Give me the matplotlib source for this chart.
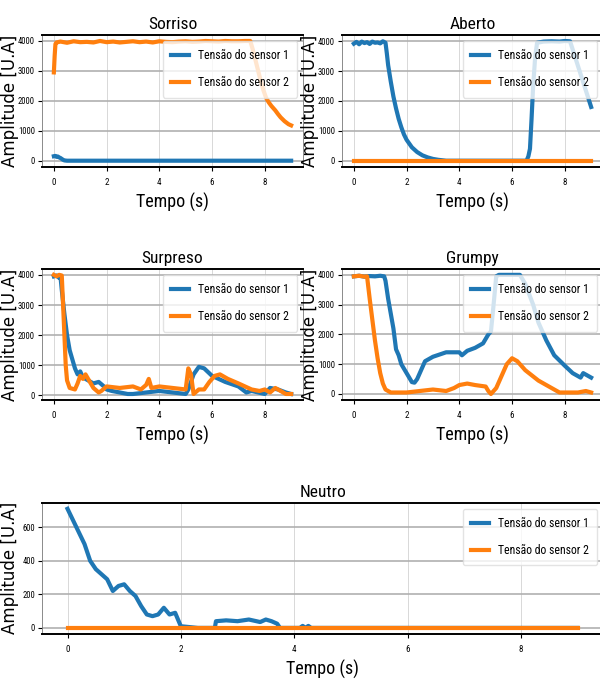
import matplotlib
matplotlib.use("Agg")
import matplotlib.pyplot as plt

# fonte estreita para imitar o texto comprimido da figura original
narrow = ["DejaVu Sans Condensed", "Roboto Condensed", "Liberation Sans Narrow", "DejaVu Sans"]
plt.rcParams["font.family"] = narrow
plt.rcParams["font.stretch"] = "condensed"

# ---- dados ----
# Sorriso
sorriso_t1 = [0, 0.05, 0.1, 0.15, 0.2, 0.25, 0.3, 0.35, 0.4, 0.5, 1, 2, 3, 4, 5, 6, 7, 8, 9]
sorriso_s1 = [150, 160, 130, 140, 110, 90, 60, 30, 10, 0, 0, 0, 0, 0, 0, 0, 0, 0, 0]
sorriso_t2 = [0, 0.03, 0.06, 0.1, 0.25, 0.5, 0.75, 1.0, 1.25, 1.5, 1.75, 2.0, 2.25, 2.5, 2.75,
              3.0, 3.25, 3.5, 3.75, 4.0, 4.25, 4.5, 4.75, 5.0, 5.25, 5.5, 5.75, 6.0, 6.25, 6.5,
              6.75, 7.0, 7.25, 7.45, 7.55, 7.65, 7.75, 7.85, 7.95, 8.05, 8.15, 8.25, 8.4, 8.5,
              8.6, 8.75, 8.9, 9.0]
sorriso_s2 = [2950, 3500, 3900, 3950, 3980, 3940, 3990, 3960, 3970, 3950, 4000, 3960, 3980,
              3950, 3970, 3990, 3960, 3980, 3950, 3990, 3970, 3960, 3980, 3990, 3970, 3980,
              4000, 3990, 3980, 4000, 3990, 3990, 4000, 4000, 3700, 3350, 3000, 2650, 2350,
              2100, 1950, 1830, 1680, 1560, 1450, 1320, 1220, 1180]

# Aberto
aberto_t1 = [0, 0.1, 0.2, 0.3, 0.4, 0.5, 0.6, 0.7, 0.8, 0.9, 1.0, 1.1, 1.2, 1.25, 1.3, 1.4,
             1.5, 1.6, 1.7, 1.8, 1.9, 2.0, 2.2, 2.4, 2.6, 2.8, 3.0, 3.2, 3.5, 4.0, 5.0, 6.0,
             6.55, 6.62, 6.68, 6.74, 6.8, 6.88, 6.95, 7.2, 7.5, 7.8, 8.0, 8.2, 8.4, 8.6, 8.8, 9.0]
aberto_s1 = [3920, 3980, 3900, 3990, 3940, 3970, 3910, 3990, 3950, 3960, 3930, 4000, 3950,
             3600, 3200, 2650, 2150, 1750, 1400, 1120, 880, 700, 450, 290, 180, 110, 60, 30,
             0, 0, 0, 0, 0, 150, 400, 1400, 2500, 3500, 3950, 3990, 4000, 3990, 4010, 4000,
             3450, 2900, 2350, 1800]
aberto_t2 = [0, 9]
aberto_s2 = [0, 0]

# Surpreso
surpreso_t1 = [0, 0.1, 0.2, 0.25, 0.3, 0.4, 0.5, 0.6, 0.7, 0.8, 0.9, 1.0, 1.1, 1.3, 1.5, 1.7,
               1.9, 2.0, 2.2, 2.5, 2.8, 3.0, 3.5, 4.0, 4.5, 5.0, 5.1, 5.3, 5.5, 5.7, 6.0, 6.5,
               7.0, 7.3, 7.5, 8.0, 8.2, 8.5, 8.8, 9.0]
surpreso_s1 = [3950, 3980, 3900, 3950, 3500, 2700, 2000, 1500, 1200, 900, 700, 800, 600, 500,
               400, 450, 300, 200, 150, 100, 50, 50, 100, 150, 100, 50, 200, 700, 950, 900,
               650, 450, 300, 100, 150, 50, 250, 200, 100, 50]
surpreso_t2 = [0, 0.1, 0.2, 0.3, 0.35, 0.4, 0.45, 0.5, 0.6, 0.8, 0.9, 1.0, 1.1, 1.2, 1.3, 1.5,
               1.7, 1.8, 2.0, 2.5, 3.0, 3.3, 3.5, 3.6, 3.7, 4.0, 4.5, 5.0, 5.1, 5.2, 5.3, 5.5,
               5.7, 5.9, 6.1, 6.3, 6.6, 7.0, 7.5, 7.8, 8.0, 8.2, 8.4, 8.6, 8.8, 9.0]
surpreso_s2 = [4000, 3950, 4000, 3980, 3000, 2000, 1000, 500, 250, 200, 400, 650, 550, 700,
               550, 250, 100, 150, 300, 250, 300, 200, 350, 550, 250, 300, 250, 200, 900, 700,
               50, 200, 200, 450, 650, 700, 550, 400, 200, 150, 200, 100, 250, 150, 50, 50]

# Grumpy
grumpy_t1 = [0, 0.2, 0.4, 0.6, 0.8, 1.0, 1.15, 1.2, 1.3, 1.4, 1.5, 1.6, 1.7, 1.8, 2.0, 2.2,
             2.3, 2.4, 2.6, 2.7, 3.0, 3.5, 4.0, 4.1, 4.3, 4.6, 4.9, 5.1, 5.2, 5.3, 5.4, 5.5,
             6.3, 6.5, 6.8, 7.0, 7.3, 7.6, 8.0, 8.3, 8.6, 8.7, 8.9, 9.0]
grumpy_s1 = [3950, 3970, 3940, 3960, 3950, 3970, 3950, 3800, 3200, 2700, 2200, 1500, 1300,
             1000, 700, 400, 380, 500, 900, 1100, 1250, 1400, 1400, 1300, 1450, 1550, 1700,
             2000, 2100, 3000, 3950, 4000, 4000, 3700, 3000, 2400, 1800, 1300, 950, 700, 550,
             700, 600, 550]
grumpy_t2 = [0, 0.2, 0.4, 0.5, 0.6, 0.7, 0.8, 0.9, 1.0, 1.1, 1.2, 1.4, 1.6, 2.0, 2.5, 3.0,
             3.5, 3.8, 4.0, 4.3, 4.6, 5.0, 5.1, 5.2, 5.4, 5.6, 5.8, 6.0, 6.2, 6.5, 7.0, 7.5,
             7.8, 8.5, 8.8, 9.0]
grumpy_s2 = [3950, 3970, 3940, 3950, 3200, 2500, 1800, 1200, 700, 350, 150, 50, 50, 50, 100,
             150, 100, 200, 300, 350, 300, 250, 100, 0, 200, 600, 1000, 1200, 1100, 800, 450,
             200, 50, 50, 100, 50]

# Neutro
neutro_t1 = [0, 0.1, 0.2, 0.3, 0.4, 0.5, 0.6, 0.7, 0.8, 0.9, 1.0, 1.1, 1.2, 1.3, 1.4, 1.5,
             1.6, 1.7, 1.8, 1.9, 2.0, 2.3, 2.6, 2.62, 2.8, 3.0, 3.2, 3.4, 3.5, 3.6, 3.7, 3.75,
             4.1, 4.15, 4.2, 4.25, 4.3, 9.0]
neutro_s1 = [710, 640, 570, 500, 400, 350, 320, 290, 220, 250, 260, 220, 190, 130, 80, 70, 80,
             120, 80, 90, 10, 0, 0, 40, 45, 40, 50, 35, 50, 40, 25, 0, 0, 12, 0, 12, 0, 0]
neutro_t2 = [0, 9]
neutro_s2 = [0, 0]

paineis = [
    ("Sorriso", sorriso_t1, sorriso_s1, sorriso_t2, sorriso_s2),
    ("Aberto", aberto_t1, aberto_s1, aberto_t2, aberto_s2),
    ("Surpreso", surpreso_t1, surpreso_s1, surpreso_t2, surpreso_s2),
    ("Grumpy", grumpy_t1, grumpy_s1, grumpy_t2, grumpy_s2),
    ("Neutro", neutro_t1, neutro_s1, neutro_t2, neutro_s2),
]

# posições dos eixos [esquerda, baixo, largura, altura]
rects = [
    [0.070, 0.757, 0.435, 0.192],
    [0.570, 0.757, 0.435, 0.192],
    [0.070, 0.417, 0.435, 0.191],
    [0.570, 0.417, 0.435, 0.191],
    [0.070, 0.076, 0.935, 0.191],
]

fig = plt.figure(figsize=(6, 6.86), dpi=100)

for (titulo, t1, s1, t2, s2), r in zip(paineis, rects):
    ax = fig.add_axes(r)
    ax.plot(t1, s1, color="#1f77b4", lw=3, label="Tensão do sensor 1")
    ax.plot(t2, s2, color="#ff7f0e", lw=3, label="Tensão do sensor 2")
    ax.set_title(titulo, fontsize=12.5, pad=4)
    ax.set_xlabel("Tempo (s)", fontsize=13, labelpad=4)
    ax.set_ylabel("Amplitude [U.A]", fontsize=12, family="DejaVu Sans", stretch="normal")
    ax.yaxis.set_label_coords(-23 / (r[2] * 600), 0.5)
    ax.set_xticks([0, 2, 4, 6, 8])
    ax.tick_params(axis="y", labelsize=6.2, length=3, pad=2)
    ax.tick_params(axis="x", labelsize=6.5, length=3, pad=5)
    ax.grid(axis="y", color="#b0b0b0", lw=1.2)
    ax.grid(axis="x", color="#d8d8d8", lw=0.7)
    for lado in ["top", "bottom"]:
        ax.spines[lado].set_linewidth(1.4)
    for lado in ["left", "right"]:
        ax.spines[lado].set_color("#777777")
        ax.spines[lado].set_linewidth(0.6)
    leg = ax.legend(loc="upper right", fontsize=8.5, handlelength=1.5,
                    labelspacing=1.2, borderpad=0.7)
    leg.get_frame().set_edgecolor("#dddddd")

fig.savefig("out.png", dpi=100)
